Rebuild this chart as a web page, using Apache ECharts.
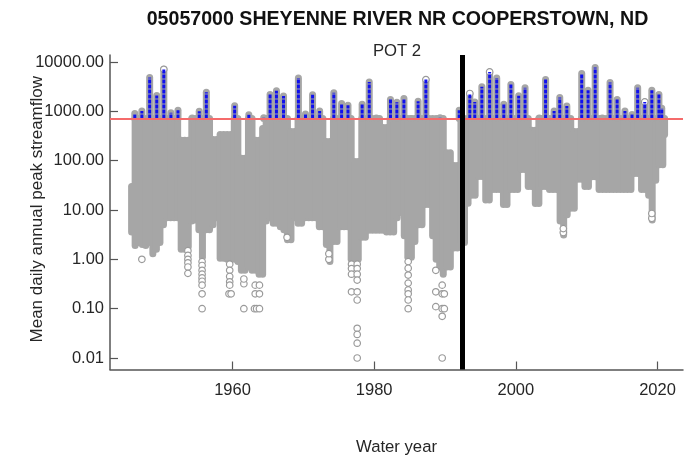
<!DOCTYPE html>
<html>
<head>
<meta charset="utf-8">
<style>
  html, body { margin: 0; padding: 0; background: #fff; }
  #chart { width: 695px; height: 456px; }
</style>
<script src="https://cdn.jsdelivr.net/npm/echarts@6/dist/echarts.min.js"></script>
</head>
<body>
<div id="chart"></div>
<script>
var xTicks = [1960, 1980, 2000, 2020];
var yTicks = [0.01, 0.1, 1, 10, 100, 1000, 10000];
var threshold = 714;
var breakYear = 1992.44;

// daily flow envelope, two columns per water year (spring, winter)
var colYears = [1945.75,
  1946.25,1946.75,1947.25,1947.75,1948.25,1948.75,1949.25,1949.75,1950.25,1950.75,
  1951.25,1951.75,1952.25,1952.75,1953.25,1953.75,1954.25,1954.75,1955.25,1955.75,
  1956.25,1956.75,1957.25,1957.75,1958.25,1958.75,1959.25,1959.75,1960.25,1960.75,
  1961.25,1961.75,1962.25,1962.75,1963.25,1963.75,1964.25,1964.75,1965.25,1965.75,
  1966.25,1966.75,1967.25,1967.75,1968.25,1968.75,1969.25,1969.75,1970.25,1970.75,
  1971.25,1971.75,1972.25,1972.75,1973.25,1973.75,1974.25,1974.75,1975.25,1975.75,
  1976.25,1976.75,1977.25,1977.75,1978.25,1978.75,1979.25,1979.75,1980.25,1980.75,
  1981.25,1981.75,1982.25,1982.75,1983.25,1983.75,1984.25,1984.75,1985.25,1985.75,
  1986.25,1986.75,1987.25,1987.75,1988.25,1988.75,1989.25,1989.75,1990.25,1990.75,
  1991.25,1991.75,1992.25,1992.75,1993.25,1993.75,1994.25,1994.75,1995.25,1995.75,
  1996.25,1996.75,1997.25,1997.75,1998.25,1998.75,1999.25,1999.75,2000.25,2000.75,
  2001.25,2001.75,2002.25,2002.75,2003.25,2003.75,2004.25,2004.75,2005.25,2005.75,
  2006.25,2006.75,2007.25,2007.75,2008.25,2008.75,2009.25,2009.75,2010.25,2010.75,
  2011.25,2011.75,2012.25,2012.75,2013.25,2013.75,2014.25,2014.75,2015.25,2015.75,
  2016.25,2016.75,2017.25,2017.75,2018.25,2018.75,2019.25,2019.75,2020.25,2020.75,
  2021.0];
var colLow = [3.6,
  1.9,2.2,2.0,1.9,2.2,1.3,1.6,2.2,5,7,
  7,7,7,1.6,1.6,1.8,6,6.3,4,1.1,
  4,4,5,7,1.05,1.05,1.0,1.0,1.0,0.9,
  0.6,0.6,0.7,0.6,0.6,0.5,0.5,6,7,5.4,
  5.4,4.6,4,2.5,2.5,7,5.4,5.4,7,7,
  7,7,4.6,4.6,2,0.9,2.3,2.3,4.6,4.6,
  4.6,1,1,1,2.8,2.8,3.9,3.9,3.9,3.9,
  3.9,3.6,3.6,3.6,7,8.9,3,1.1,1.1,2.3,
  5,5,13,13,3,1,0.7,0.5,0.7,0.7,
  1.7,1.7,2.2,2.2,13.7,20,20,48,48,16,
  16,26,26,26,13,13,26,26,26,66,
  66,30,30,13.5,13.5,30,30,26,26,26,
  6,3.1,8,10.9,10.9,42,42,30,30,47,
  47,26,26,26,26,26,26,26,26,26,
  26,55,55,26,26,20,6.3,40,83,83,
  340];
var colHigh = [30,
  714,714,714,714,714,714,714,714,714,714,
  714,714,714,260,260,260,714,714,714,714,
  714,714,270,270,340,340,340,340,714,714,
  112,112,714,714,260,260,450,714,714,714,
  714,714,714,714,390,390,714,714,714,714,
  714,714,714,714,245,245,714,714,714,714,
  714,714,96,96,714,714,714,714,714,714,
  470,470,714,714,714,714,714,714,714,714,
  714,714,714,714,714,714,714,714,145,145,
  80,80,714,714,714,714,714,714,714,714,
  714,714,714,714,714,714,714,714,714,714,
  714,714,415,415,714,714,714,714,714,714,
  714,714,714,714,390,390,714,714,714,714,
  714,714,714,714,714,714,714,714,714,714,
  714,714,714,714,714,714,714,714,714,714,
  714];

// annual peaks above the threshold
var peakYears = [1946.2,1947.2,1948.3,1949.3,1950.3,1951.3,1952.3,1954.3,1955.3,1956.3,
  1960.3,1962.3,1964.4,1965.3,1966.2,1967.2,1969.3,1970.3,1971.3,1972.3,
  1974.3,1975.4,1976.3,1978.3,1979.3,1980.3,1982.3,1983.2,1984.2,1985.2,
  1986.2,1987.3,1989.3,1992.0,1993.5,1994.2,1995.2,1996.3,1997.3,1998.3,
  1999.3,2000.4,2001.3,2003.3,2004.2,2005.4,2006.2,2007.2,2009.3,2010.2,
  2011.2,2012.2,2013.3,2014.3,2015.4,2016.4,2017.2,2018.2,2019.2,2020.2,2020.6];
var peakFlow = [900,1020,4850,2100,7100,940,1050,730,1000,2450,
  1300,850,740,2200,2630,2040,4750,880,2180,1020,
  2380,1450,1330,1390,3950,730,1730,1530,1820,720,
  1600,4400,740,1050,2300,1550,3150,6300,4750,1400,
  3500,2060,3000,730,4400,1020,1900,1280,5850,2680,
  7700,730,3840,1730,1020,860,3000,1550,2680,2200,1150];

// separate open circles
var ringYears = [1947.2,
  1955.7,1955.7,1955.7,1955.7,1955.7,1955.7,1955.7,1955.7,1955.7,
  1953.7,1953.7,1953.7,1953.7,1953.7,1953.7,
  1959.5,1959.8,1959.6,1959.6,1959.6,1959.6,1959.6,
  1961.6,1961.6,1961.6,1963.1,1963.4,1963.8,1963.2,1963.8,1963.2,1963.8,
  1976.8,1976.8,1976.8,1976.8,
  1977.6,1977.6,1977.6,1977.6,1977.6,1977.6,1977.6,1977.6,1977.6,1977.6,
  1984.8,1984.8,1984.8,1984.8,1984.8,1984.8,1984.8,1984.8,
  1988.7,1988.7,1988.7,1989.6,1989.6,1989.6,1989.6,1989.6,1989.9,1989.9,
  1973.6,1973.6,1967.7,2006.7,2006.7,2019.2,2019.2,
  1993.5,1996.3,2018.2,1950.3,1987.3];
var ringFlow = [1,
  0.9,0.75,0.6,0.5,0.42,0.36,0.3,0.2,0.1,
  1.5,1.2,1,0.85,0.7,0.52,
  0.2,0.2,0.8,0.6,0.45,0.35,0.3,
  0.1,0.32,0.4,0.1,0.1,0.1,0.2,0.2,0.3,0.3,
  0.8,0.65,0.5,0.22,
  0.8,0.65,0.5,0.38,0.22,0.15,0.04,0.03,0.02,0.01,
  0.9,0.66,0.48,0.33,0.24,0.2,0.15,0.1,
  0.6,0.22,0.11,0.3,0.2,0.1,0.07,0.01,0.1,0.2,
  1,1.3,2.8,3.5,4.2,6.8,8.5,
  2300,6300,1550,7100,4400];

function rangeItem(color, width, dash) {
  return function (params, api) {
    var a = api.coord([api.value(0), api.value(1)]);
    var b = api.coord([api.value(0), api.value(2)]);
    return {
      type: 'line',
      shape: { x1: a[0], y1: a[1], x2: b[0], y2: b[1] },
      style: { stroke: color, lineWidth: width, lineCap: dash ? 'butt' : 'round', lineDash: dash || null }
    };
  };
}

var chart = echarts.init(document.getElementById('chart'));
var txt = '#262626';
var font = 'Liberation Sans';

chart.setOption({
  animation: false,
  textStyle: { fontFamily: font },
  title: [
    { text: '05057000 SHEYENNE RIVER NR COOPERSTOWN, ND', left: 392.5, top: 5, textAlign: 'center',
      textStyle: { fontFamily: font, fontSize: 19.6, fontWeight: 'bold', color: '#111' } },
    { text: 'POT 2', left: 392, top: 38, textAlign: 'center',
      textStyle: { fontFamily: font, fontSize: 16.7, fontWeight: 'normal', color: txt } }
  ],
  grid: { left: 110, right: 12, top: 55, bottom: 86.5, outerBoundsMode: 'none' },
  xAxis: {
    type: 'value',
    min: 1942.7,
    max: 2023.6,
    name: 'Water year',
    nameLocation: 'middle',
    nameGap: 69,
    nameMoveOverlap: false,
    nameTextStyle: { fontSize: 16.7, color: txt },
    splitLine: { show: false },
    axisLine: { show: true, lineStyle: { color: '#555', width: 1.5 } },
    axisTick: { show: true, inside: true, length: 8, customValues: xTicks, lineStyle: { color: '#555', width: 1.2 } },
    axisLabel: { customValues: xTicks, margin: 12, fontSize: 16.5, color: txt, formatter: function (v) { return String(v); } }
  },
  yAxis: {
    type: 'log',
    logBase: 10,
    min: 0.00585,
    max: 13870,
    name: 'Mean daily annual peak streamflow',
    nameLocation: 'middle',
    nameGap: 64,
    nameMoveOverlap: false,
    nameTextStyle: { fontSize: 17, color: txt, padding: [0, 0, 0, 6] },
    splitLine: { show: false },
    axisLine: { show: true, lineStyle: { color: '#555', width: 1.5 } },
    axisTick: { show: true, inside: true, length: 8, customValues: yTicks, lineStyle: { color: '#555', width: 1.2 } },
    axisLabel: { customValues: yTicks, margin: 6, fontSize: 16.5, color: txt, formatter: function (v) { return Number(v).toFixed(2); } }
  },
  series: [
    {
      type: 'custom', z: 2, silent: true,
      renderItem: rangeItem('#a6a6a6', 7),
      encode: { x: 0, y: [1, 2] },
      data: colYears.map(function (y, i) { return [y, colLow[i], colHigh[i]]; })
    },
    {
      type: 'custom', z: 3, silent: true,
      renderItem: rangeItem('#a6a6a6', 7),
      encode: { x: 0, y: [1, 2] },
      data: peakYears.map(function (y, i) { return [y, threshold, peakFlow[i]]; })
    },
    {
      type: 'scatter', z: 4, silent: true,
      symbol: 'circle', symbolSize: 6.5,
      itemStyle: { color: '#fff', borderColor: '#9a9a9a', borderWidth: 1.2, opacity: 1 },
      data: ringYears.map(function (y, i) { return [y, ringFlow[i]]; })
    },
    {
      type: 'custom', z: 5, silent: true,
      renderItem: rangeItem('#1010ee', 3, [4, 1]),
      encode: { x: 0, y: [1, 2] },
      data: peakYears.map(function (y, i) { return [y, threshold, peakFlow[i]]; }),
      markLine: {
        silent: true, symbol: 'none', animation: false, label: { show: false }, z: 8,
        data: [
          { yAxis: threshold, lineStyle: { color: '#f56b6b', width: 2, type: 'solid' } },
          { xAxis: breakYear, lineStyle: { color: '#000', width: 5, type: 'solid' } }
        ]
      }
    }
  ]
});
</script>
</body>
</html>
